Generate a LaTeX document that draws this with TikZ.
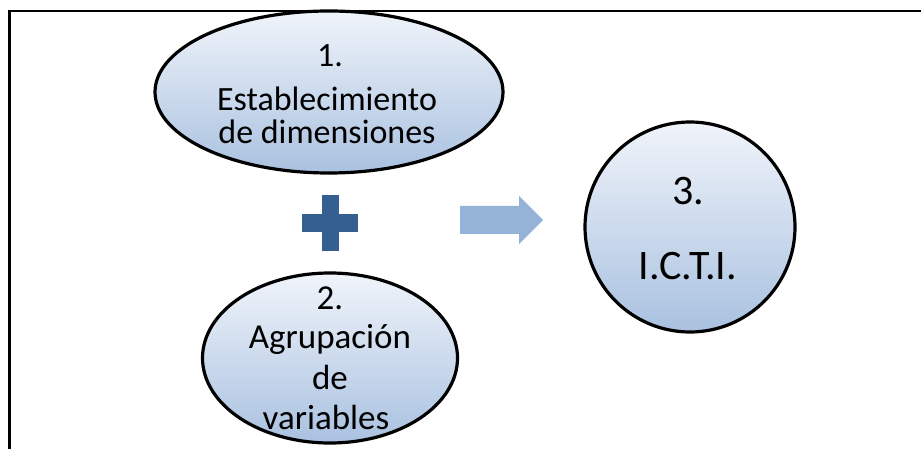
\documentclass[tikz,border=0pt]{standalone}
\usepackage{fontspec}
\setmainfont{Carlito}
\usetikzlibrary{shapes.geometric}
\definecolor{plusblue}{HTML}{355F91}
\definecolor{arrowblue}{HTML}{95B3D7}
\definecolor{topfill}{HTML}{F0F4FA}
\definecolor{botfill}{HTML}{A9C1E0}
\tikzset{
  bubble/.style={ellipse, draw=black, line width=3.2pt, top color=topfill, bottom color=botfill, inner sep=0pt},
  txtA/.style={anchor=base, inner sep=0pt, font=\fontsize{34}{34}\selectfont},
  txtB/.style={anchor=base, inner sep=0pt, font=\fontsize{35}{35}\selectfont},
  txtC/.style={anchor=base, inner sep=0pt, font=\fontsize{42}{42}\selectfont},
  frame/.style={draw=black, line width=2.6pt},
}
\begin{document}
\begin{tikzpicture}[x=1pt,y=-1pt]
\useasboundingbox (0,0) rectangle (921,449);
% frame (top and left edges visible)
\draw[frame] (9.5,449) -- (9.5,11) -- (925,11);
% ellipse 1
\node[bubble, minimum width=348pt, minimum height=162pt] (e1) at (329,92) {};
\node[txtA] (t1a) at (330,67) {1.};
\node[txtA] (t1b) at (327,111) {Establecimiento};
\node[txtA] (t1c) at (327,144) {de dimensiones};
% plus
\fill[plusblue] (322,195) rectangle (339,251);
\fill[plusblue] (302,214) rectangle (358,232);
\coordinate (plus) at (330.5,223);
% ellipse 2
\node[bubble, minimum width=255pt, minimum height=170pt] (e2) at (330,358) {};
\node[txtB] (t2a) at (330,309) {2.};
\node[txtB] (t2b) at (330,348) {Agrupación};
\node[txtB] (t2c) at (330,389) {de};
\node[txtB] (t2d) at (326,429) {variables};
% arrow
\fill[arrowblue] (460,206) -- (519,206) -- (519,196) -- (543,220) -- (519,244) -- (519,234) -- (460,234) -- cycle;
% circle 3
\node[bubble, minimum width=210pt, minimum height=210pt] (e3) at (690,227) {};
\node[txtC] (t3a) at (688,205) {3.};
\node[txtC] (t3b) at (688,279) {I.C.T.I.};
\end{tikzpicture}
\end{document}
